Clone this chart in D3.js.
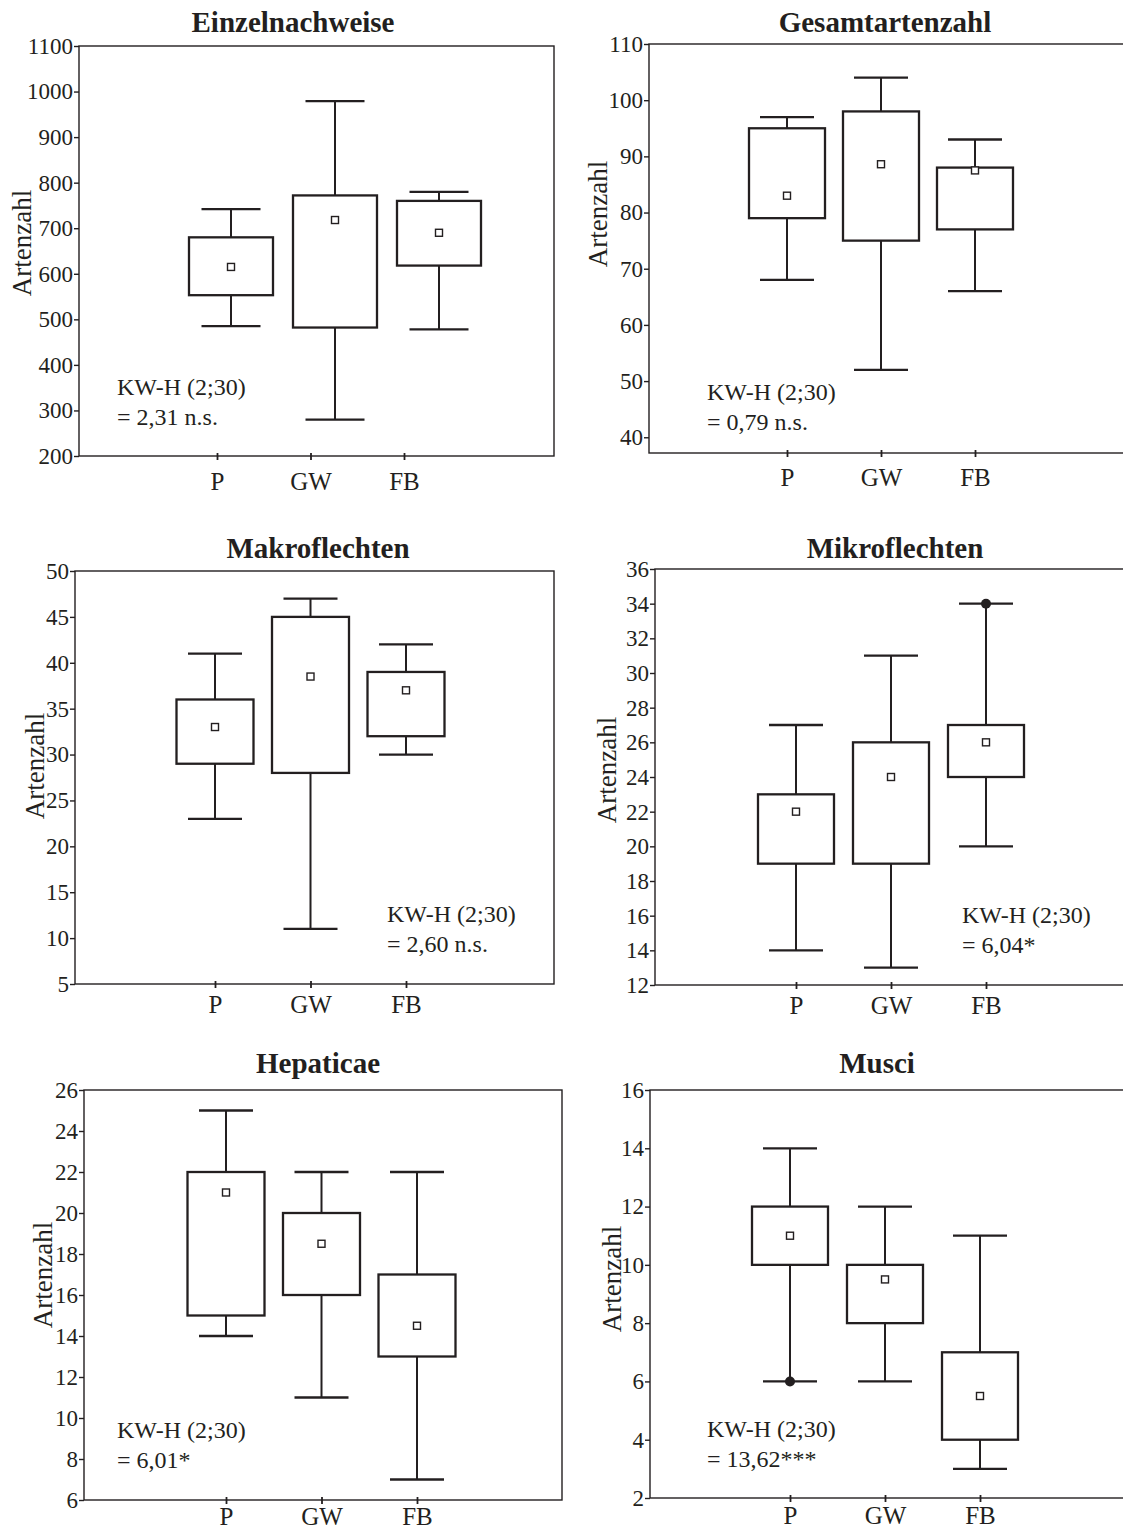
<!DOCTYPE html>
<html><head><meta charset="utf-8">
<script src="https://cdn.jsdelivr.net/npm/d3@7"></script>
<style>
body{margin:0;background:#fff}
svg{display:block}
text{font-family:"Liberation Serif","Times New Roman",serif;fill:#231f20}
</style>
</head><body>
<svg id="c" width="1123" height="1531"></svg>
<script>
// ---------- data ----------
const categories = ["P", "GW", "FB"];
const panelTitles = ["Einzelnachweise", "Gesamtartenzahl", "Makroflechten", "Mikroflechten", "Hepaticae", "Musci"];
// each row: [whisker low, box low, box high, whisker high, mean] for P, GW, FB
const einzelnachweise = [[485, 553, 680, 742, 615], [280, 482, 772, 979, 718], [478, 618, 760, 780, 690]];
const gesamtartenzahl = [[68, 79, 95, 97, 83], [52, 75, 98, 104, 88.6], [66, 77, 88, 93, 87.5]];
const makroflechten = [[23, 29, 36, 41, 33], [11, 28, 45, 47, 38.5], [30, 32, 39, 42, 37]];
const mikroflechten = [[14, 19, 23, 27, 22], [13, 19, 26, 31, 24], [20, 24, 27, 34, 26]];
const hepaticae = [[14, 15, 22, 25, 21], [11, 16, 20, 22, 18.5], [7, 13, 17, 22, 14.5]];
const musci = [[6, 10, 12, 14, 11], [6, 8, 10, 12, 9.5], [3, 4, 7, 11, 5.5]];
// filled dots (extremes) per category
const extremesEinzel = [null, null, null];
const extremesGesamt = [null, null, null];
const extremesMakro = [null, null, null];
const extremesMikro = [null, null, 34];
const extremesHepaticae = [null, null, null];
const extremesMusci = [6, null, null];
// y tick labels
const ticksEinzel = [200, 300, 400, 500, 600, 700, 800, 900, 1000, 1100];
const ticksGesamt = [40, 50, 60, 70, 80, 90, 100, 110];
const ticksMakro = [5, 10, 15, 20, 25, 30, 35, 40, 45, 50];
const ticksMikro = [12, 14, 16, 18, 20, 22, 24, 26, 28, 30, 32, 34, 36];
const ticksHepaticae = [6, 8, 10, 12, 14, 16, 18, 20, 22, 24, 26];
const ticksMusci = [2, 4, 6, 8, 10, 12, 14, 16];
const yDomains = [[200, 1100], [37.2, 110], [5, 50], [12, 36], [6, 26], [2, 16]];
const yLabel = "Artenzahl";
const kwLine1 = "KW-H (2;30)";
const kwResults = ["= 2,31 n.s.", "= 0,79 n.s.", "= 2,60 n.s.", "= 6,04*", "= 6,01*", "= 13,62***"];

const panelData = [einzelnachweise, gesamtartenzahl, makroflechten, mikroflechten, hepaticae, musci];
const panelExtremes = [extremesEinzel, extremesGesamt, extremesMakro, extremesMikro, extremesHepaticae, extremesMusci];
const panelTicks = [ticksEinzel, ticksGesamt, ticksMakro, ticksMikro, ticksHepaticae, ticksMusci];

// ---------- layout ----------
const layout = [
  {x0: 79, x1: 554, y0: 46, y1: 456, tick: [138, 325], box: [152, 360], boxW: 84, capW: 59, xpad: 12, title: [293, 32], ylab: [22, 243], kw: [117, 395]},
  {x0: 649, x1: 1124, y0: 44, y1: 453, tick: [138, 326], box: [138, 326], boxW: 76, capW: 54, xpad: 11, title: [885, 32], ylab: [598, 214], kw: [707, 400]},
  {x0: 75, x1: 554, y0: 571, y1: 984, tick: [140, 331], box: [140, 331], boxW: 77, capW: 54, xpad: 7, title: [318, 558], ylab: [35, 766], kw: [387, 922]},
  {x0: 655, x1: 1134, y0: 569, y1: 985, tick: [141, 331], box: [141, 331], boxW: 76, capW: 54, xpad: 7, title: [895, 558], ylab: [607, 770], kw: [962, 923]},
  {x0: 84, x1: 562, y0: 1090, y1: 1500, tick: [142, 333], box: [142, 333], boxW: 77, capW: 54, xpad: 3, title: [318, 1073], ylab: [43, 1275], kw: [117, 1438]},
  {x0: 650, x1: 1125, y0: 1090, y1: 1498, tick: [140, 330], box: [140, 330], boxW: 76, capW: 54, xpad: 4, title: [877, 1073], ylab: [612, 1279], kw: [707, 1437]}
];
const ink = "#231f20";
const serif = '"Liberation Serif","Times New Roman",serif';

const svg = d3.select("#c");
svg.append("rect").attr("width", 1123).attr("height", 1531).attr("fill", "#fff");

layout.forEach((L, i) => {
  const g = svg.append("g");
  const y = d3.scaleLinear().domain(yDomains[i]).range([L.y1, L.y0]);
  const xTick = d3.scalePoint().domain(categories).range([L.x0 + L.tick[0], L.x0 + L.tick[1]]);
  const xBox = d3.scalePoint().domain(categories).range([L.x0 + L.box[0], L.x0 + L.box[1]]);

  // title
  g.append("text").attr("x", L.title[0]).attr("y", L.title[1])
    .attr("text-anchor", "middle").attr("font-size", 29).attr("font-weight", "bold")
    .text(panelTitles[i]);

  // y label
  g.append("text").attr("transform", `translate(${L.ylab[0]},${L.ylab[1]}) rotate(-90)`)
    .attr("text-anchor", "middle").attr("dy", "0.35em").attr("font-size", 27)
    .text(yLabel);

  // frame
  g.append("rect").attr("x", L.x0).attr("y", L.y0)
    .attr("width", L.x1 - L.x0).attr("height", L.y1 - L.y0)
    .attr("fill", "none").attr("stroke", ink).attr("stroke-width", 1.4);

  // y axis
  const ya = g.append("g").attr("transform", `translate(${L.x0},0)`)
    .call(d3.axisLeft(y).tickValues(panelTicks[i]).tickSize(5).tickPadding(1).tickFormat(d3.format("d")));
  ya.select(".domain").remove();
  ya.selectAll("line").attr("stroke", ink).attr("stroke-width", 1.4);
  ya.selectAll("text").attr("font-size", 23).attr("font-family", serif).attr("fill", ink);

  // x axis
  const xa = g.append("g").attr("transform", `translate(0,${L.y1})`)
    .call(d3.axisBottom(xTick).tickSize(4).tickPadding(L.xpad));
  xa.select(".domain").remove();
  xa.selectAll("line").attr("y1", -3).attr("stroke", ink).attr("stroke-width", 1.8);
  xa.selectAll("text").attr("font-size", 25).attr("font-family", serif).attr("fill", ink);

  // boxes
  const rows = panelData[i].map((r, k) => ({cat: categories[k], lo: r[0], q1: r[1], q3: r[2], hi: r[3], mean: r[4], ext: panelExtremes[i][k]}));
  const bg = g.selectAll(".bx").data(rows).enter().append("g");
  bg.append("line").attr("x1", d => xBox(d.cat)).attr("x2", d => xBox(d.cat))
    .attr("y1", d => y(d.hi)).attr("y2", d => y(d.lo)).attr("stroke", ink).attr("stroke-width", 2);
  bg.append("line").attr("x1", d => xBox(d.cat) - L.capW / 2).attr("x2", d => xBox(d.cat) + L.capW / 2)
    .attr("y1", d => y(d.hi)).attr("y2", d => y(d.hi)).attr("stroke", ink).attr("stroke-width", 2.3);
  bg.append("line").attr("x1", d => xBox(d.cat) - L.capW / 2).attr("x2", d => xBox(d.cat) + L.capW / 2)
    .attr("y1", d => y(d.lo)).attr("y2", d => y(d.lo)).attr("stroke", ink).attr("stroke-width", 2.3);
  bg.append("rect").attr("x", d => xBox(d.cat) - L.boxW / 2).attr("width", L.boxW)
    .attr("y", d => y(d.q3)).attr("height", d => y(d.q1) - y(d.q3))
    .attr("fill", "#fff").attr("stroke", ink).attr("stroke-width", 2.3);
  bg.append("rect").attr("x", d => xBox(d.cat) - 3.5).attr("y", d => y(d.mean) - 3.5)
    .attr("width", 7).attr("height", 7).attr("fill", "#fff").attr("stroke", ink).attr("stroke-width", 1.4);
  bg.filter(d => d.ext !== null).append("circle")
    .attr("cx", d => xBox(d.cat)).attr("cy", d => y(d.ext)).attr("r", 5).attr("fill", ink);

  // KW-H text
  g.append("text").attr("x", L.kw[0]).attr("y", L.kw[1]).attr("font-size", 24).text(kwLine1);
  g.append("text").attr("x", L.kw[0]).attr("y", L.kw[1] + 30).attr("font-size", 24).text(kwResults[i]);
});
</script>
</body></html>
